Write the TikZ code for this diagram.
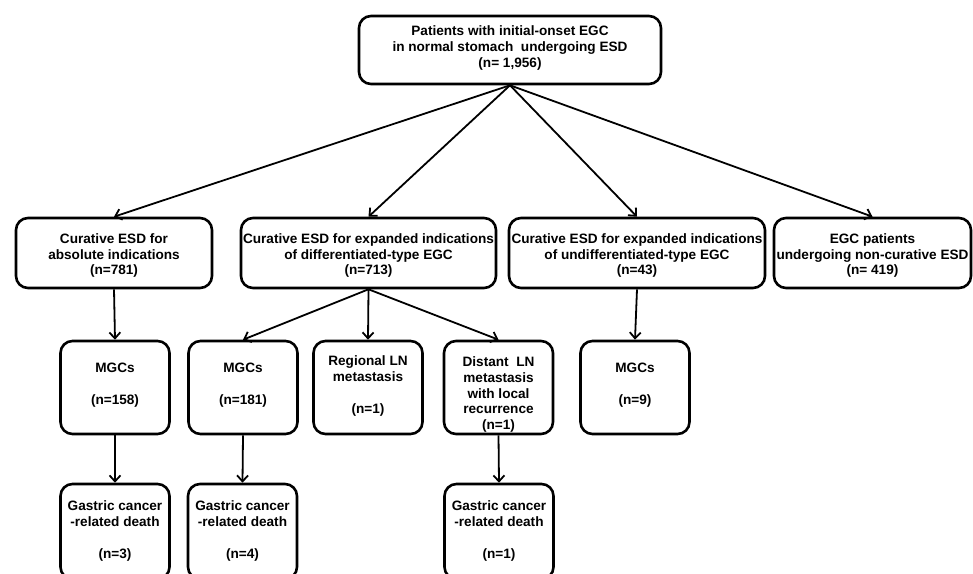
\documentclass[tikz,border=0pt]{standalone}
\usepackage{fontspec}
\setmainfont{Liberation Sans}
\usetikzlibrary{arrows.meta}
\begin{document}
\begin{tikzpicture}[x=1pt,y=-1pt,
  box/.style={draw=black, line width=2.6pt, rounded corners=12pt, inner sep=0pt},
  txt/.style={align=center, inner sep=0pt, font=\bfseries\fontsize{13.6}{15.7}\selectfont},
  lvtwo/.style={box, minimum height=70pt},
  lvthree/.style={box, minimum height=93pt, minimum width=109pt},
  arr/.style={line width=1.8pt, -{Straight Barb[length=6pt,width=11pt]}}]
\useasboundingbox (0,0) rectangle (973,573);
\fill[white] (0,0) rectangle (973,573);
\clip (0,0) rectangle (973,573);

% top
\node[box, minimum width=302pt, minimum height=68pt] (top) at (510,50) {};
\node[txt] (topt) at (510,48)
  {Patients with initial-onset EGC\\in normal stomach\ \ undergoing ESD\\(n= 1,956)};

% level 2
\node[lvtwo, minimum width=196pt] (a) at (114,253) {};
\node[lvtwo, minimum width=255pt] (b) at (368.5,253) {};
\node[lvtwo, minimum width=256pt] (c) at (637,253) {};
\node[lvtwo, minimum width=197pt] (d) at (872.5,253) {};
\node[txt] (at) at (114,255.5) {Curative ESD for\\absolute indications\\(n=781)};
\node[txt] (bt) at (368.5,255.5) {Curative ESD for expanded indications\\of differentiated-type EGC\\(n=713)};
\node[txt] (ct) at (637,255.5) {Curative ESD for expanded indications\\of undifferentiated-type EGC\\(n=43)};
\node[txt] (dt) at (872.5,255.5) {EGC patients\\undergoing non-curative ESD\\(n= 419)};

% level 3
\node[lvthree] (a1) at (115,387.5) {};
\node[lvthree] (b1) at (243,387.5) {};
\node[lvthree] (b2) at (368,387.5) {};
\node[lvthree] (b3) at (498.5,387.5) {};
\node[lvthree] (c1) at (635,387.5) {};
\node[txt] (a1t) at (115,385) {MGCs\\\mbox{}\\(n=158)};
\node[txt] (b1t) at (243,385) {MGCs\\\mbox{}\\(n=181)};
\node[txt] (b2t) at (368,386) {Regional LN\\metastasis\\\mbox{}\\(n=1)};
\node[txt] (b3t) at (498.5,394.5) {Distant\ \ LN\\metastasis\\with local\\recurrence\\(n=1)};
\node[txt] (c1t) at (635,385) {MGCs\\\mbox{}\\(n=9)};

% level 4
\node[lvthree, minimum height=95pt] (a2) at (115,531.5) {};
\node[lvthree, minimum height=95pt] (b4) at (242.5,531.5) {};
\node[lvthree, minimum height=95pt] (b5) at (499,531.5) {};
\node[txt] (a2t) at (115,531) {Gastric cancer\\-related death\\\mbox{}\\(n=3)};
\node[txt] (b4t) at (242.5,531) {Gastric cancer\\-related death\\\mbox{}\\(n=4)};
\node[txt] (b5t) at (499,531) {Gastric cancer\\-related death\\\mbox{}\\(n=1)};

% connectors
\draw[arr] (top.south) -- (a.north);
\draw[arr] (top.south) -- (b.north);
\draw[arr] (top.south) -- (c.north);
\draw[arr] (top.south) -- (d.north);
\draw[arr] (a.south) -- (a1.north);
\draw[arr] (b.south) -- (b1.north);
\draw[arr] (b.south) -- (b2.north);
\draw[arr] (b.south) -- (b3.north);
\draw[arr] (c.south) -- (c1.north);
\draw[arr] (a1.south) -- (a2.north);
\draw[arr] (b1.south) -- (b4.north);
\draw[arr] (b3.south) -- (b5.north);
\end{tikzpicture}
\end{document}
